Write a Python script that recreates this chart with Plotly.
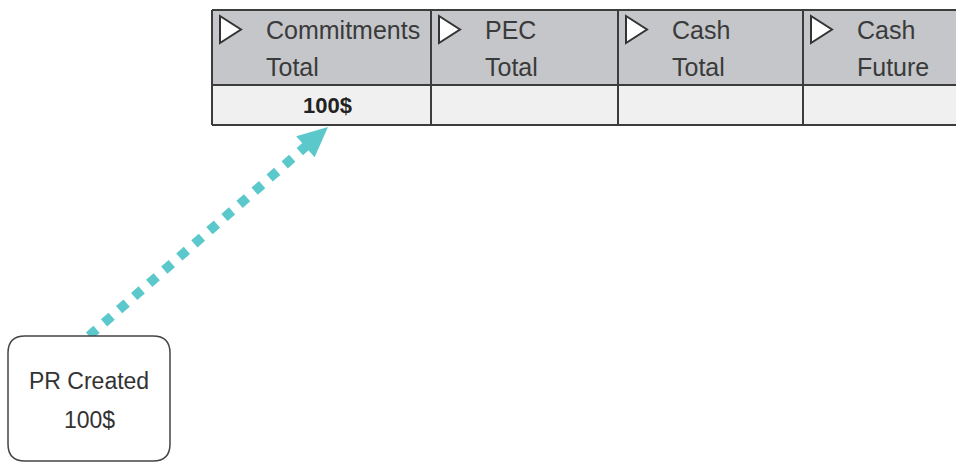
import math
import plotly.graph_objects as go

# ---- data ----
header_line1 = ["Commitments", "PEC", "Cash", "Cash"]
header_line2 = ["Total", "Total", "Total", "Future"]
cell_values = ["100$", "", "", ""]
event_label = "PR Created"
event_amount = "100$"

W, H = 956, 462
col_edges = [212, 431, 618, 803, 975]
table_top, header_bottom, table_bottom = 10, 85, 125
border = "#3c3c3c"
teal = "#5bc8cb"
font_family = "Liberation Sans, Arial, sans-serif"

fig = go.Figure()
shapes = []
annotations = []

# table fills
shapes.append(dict(type="rect", x0=col_edges[0], x1=col_edges[-1], y0=table_top, y1=header_bottom,
                   fillcolor="#c4c6c9", line=dict(width=0), layer="below"))
shapes.append(dict(type="rect", x0=col_edges[0], x1=col_edges[-1], y0=header_bottom, y1=table_bottom,
                   fillcolor="#f0f0f0", line=dict(width=0), layer="below"))
# borders
for yv in (table_top, header_bottom, table_bottom):
    shapes.append(dict(type="line", x0=col_edges[0], x1=col_edges[-1], y0=yv, y1=yv,
                       line=dict(color=border, width=2)))
for xv in col_edges[:-1]:
    shapes.append(dict(type="line", x0=xv, x1=xv, y0=table_top, y1=table_bottom,
                       line=dict(color=border, width=2)))

for i, (l1, l2, v) in enumerate(zip(header_line1, header_line2, cell_values)):
    left = col_edges[i]
    right = col_edges[i + 1]
    tx = left + 8
    shapes.append(dict(type="path",
                       path=f"M {tx},{16} L {tx + 21},{29.5} L {tx},{43} Z",
                       fillcolor="white", line=dict(color="#333333", width=2)))
    annotations.append(dict(x=left + 52, y=30, text=l1, showarrow=False, xanchor="left", yanchor="middle",
                            font=dict(family=font_family, size=25, color="#3a3a3a")))
    annotations.append(dict(x=left + 52, y=67, text=l2, showarrow=False, xanchor="left", yanchor="middle",
                            font=dict(family=font_family, size=25, color="#3a3a3a")))
    if v:
        annotations.append(dict(x=(left + right) / 2 + 6, y=105, text=f"<b>{v}</b>", showarrow=False,
                                xanchor="center", yanchor="middle",
                                font=dict(family=font_family, size=22, color="#222222")))

# event box (rounded)
bx0, bx1, by0, by1, r = 8, 170, 336, 461, 17
path = (f"M {bx0 + r},{by0} L {bx1 - r},{by0} Q {bx1},{by0} {bx1},{by0 + r} "
        f"L {bx1},{by1 - r} Q {bx1},{by1} {bx1 - r},{by1} L {bx0 + r},{by1} "
        f"Q {bx0},{by1} {bx0},{by1 - r} L {bx0},{by0 + r} Q {bx0},{by0} {bx0 + r},{by0} Z")
shapes.append(dict(type="path", path=path, fillcolor="white", line=dict(color="#444444", width=1.5)))
annotations.append(dict(x=(bx0 + bx1) / 2, y=381, text=event_label, showarrow=False,
                        font=dict(family=font_family, size=23, color="#333333")))
annotations.append(dict(x=(bx0 + bx1) / 2, y=420, text=event_amount, showarrow=False,
                        font=dict(family=font_family, size=23, color="#333333")))

# dotted arrow
sx, sy = 89, 336
ex, ey = 328, 127
dx, dy = ex - sx, ey - sy
L = math.hypot(dx, dy)
ux, uy = dx / L, dy / L
hl, hw = 30, 14
bxc, byc = ex - hl * ux, ey - hl * uy
px, py = -uy, ux
fig.add_trace(go.Scatter(x=[sx, bxc + 2 * ux], y=[sy, byc + 2 * uy], mode="lines",
                         line=dict(color=teal, width=9.5, dash="10px,10px"), hoverinfo="skip"))
shapes.append(dict(type="path",
                   path=f"M {ex},{ey} L {bxc + hw * px},{byc + hw * py} L {bxc - hw * px},{byc - hw * py} Z",
                   fillcolor=teal, line=dict(width=0)))

fig.update_layout(
    width=W, height=H, margin=dict(l=0, r=0, t=0, b=0),
    paper_bgcolor="white", plot_bgcolor="white", showlegend=False,
    xaxis=dict(range=[0, W], visible=False, fixedrange=True),
    yaxis=dict(range=[H, 0], visible=False, fixedrange=True),
    shapes=shapes, annotations=annotations,
)
fig.write_html("out.html", config={"displayModeBar": False},
               post_script="document.body.style.margin='0';document.body.style.overflow='hidden';")
